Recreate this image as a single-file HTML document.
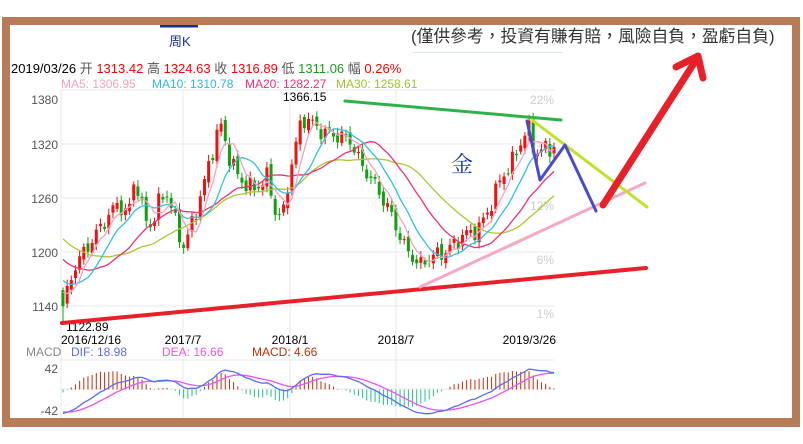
<!DOCTYPE html>
<html><head><meta charset="utf-8"><style>
html,body{margin:0;padding:0;background:#fff;}
body{width:803px;height:444px;overflow:hidden;position:relative;font-family:"Liberation Sans","Noto Sans CJK TC",sans-serif;}
</style></head><body>
<svg id="s" width="803" height="444" xmlns="http://www.w3.org/2000/svg" style="position:absolute;left:0;top:0">
<rect x="2" y="17" width="798" height="410" fill="#b87b58"/>
<rect x="10" y="25" width="782" height="393" fill="#fff"/>
<rect x="160" y="25" width="38" height="2.5" fill="#1a2f8a"/>
<text x="169" y="46" font-size="13" fill="#1a2f8a" font-family="Liberation Sans,Noto Sans CJK SC,sans-serif">周K</text>
<text x="411" y="42" font-size="16.8" fill="#333" font-family="Liberation Sans,Noto Sans CJK TC,sans-serif">(僅供參考，投資有賺有賠，風險自負，盈虧自負)</text>
<rect x="412" y="52" width="151" height="1" fill="#dde6f5"/>
<g font-size="13" font-family="Liberation Sans,Noto Sans CJK SC,sans-serif" xml:space="preserve">
<text x="11" y="73" fill="#000">2019/03/26  <tspan fill="#555">开</tspan> <tspan fill="#f00">1313.42</tspan>  <tspan fill="#555">高</tspan> <tspan fill="#f00">1324.63</tspan>  <tspan fill="#555">收</tspan> <tspan fill="#f00">1316.89</tspan>  <tspan fill="#555">低</tspan> <tspan fill="#1a9a1a">1311.06</tspan>  <tspan fill="#555">幅</tspan> <tspan fill="#f00">0.26%</tspan></text>
</g>
<g font-size="12" font-family="Liberation Sans,sans-serif">
<text x="61" y="88" fill="#f8a0c0">MA5: 1306.95</text>
<text x="152" y="88" fill="#2fb7e0">MA10: 1310.78</text>
<text x="245" y="88" fill="#f03070">MA20: 1282.27</text>
<text x="336" y="88" fill="#9cc42a">MA30: 1258.61</text>
</g>
<g id="grid" stroke="#e8e8e8" stroke-width="1"></g>
<g font-size="12" fill="#555" font-family="Liberation Sans,sans-serif" text-anchor="end">
<text x="58" y="104">1380</text><text x="58" y="149">1320</text><text x="58" y="203">1260</text><text x="58" y="257">1200</text><text x="58" y="311">1140</text>
<text x="58" y="373">42</text><text x="58" y="415">-42</text>
</g>
<g font-size="12" fill="#ccc" font-family="Liberation Sans,sans-serif" text-anchor="end">
<text x="554" y="104">22%</text><text x="554" y="154">17%</text><text x="554" y="210">12%</text><text x="554" y="264">6%</text><text x="554" y="318">1%</text>
</g>
<g id="plot"></g>
<g font-size="12" fill="#000" font-family="Liberation Sans,sans-serif">
<text x="283" y="101">1366.15</text>
<text x="66" y="331">1122.89</text>
<text x="61" y="344">2016/12/16</text>
<text x="183" y="344" text-anchor="middle">2017/7</text>
<text x="290" y="344" text-anchor="middle">2018/1</text>
<text x="396" y="344" text-anchor="middle">2018/7</text>
<text x="556" y="344" text-anchor="end">2019/3/26</text>
<text x="26" y="356" fill="#888">MACD</text>
<text x="71" y="356" fill="#5b6cf5">DIF: 18.98</text>
<text x="162" y="356" fill="#f050f0">DEA: 16.66</text>
<text x="252" y="356" fill="#c0300a">MACD: 4.66</text>
</g>
<text x="462" y="172" font-size="22" fill="#1a3a9a" text-anchor="middle" font-family="Noto Serif CJK SC,serif">金</text>
<g fill="none" stroke-linecap="round" stroke-linejoin="round">
<line x1="345" y1="101" x2="561" y2="120" stroke="#2db24a" stroke-width="3"/>
<line x1="62" y1="323" x2="646" y2="268" stroke="#e8202a" stroke-width="4"/>
<line x1="420" y1="287" x2="645" y2="183" stroke="#f6a8c6" stroke-width="3"/>
<line x1="532" y1="120" x2="647" y2="207" stroke="#bfe22c" stroke-width="3"/>
<polyline points="527,121 540,180 565,145 596,211" stroke="#4a4acf" stroke-width="3"/>
<line x1="603" y1="205" x2="696" y2="60" stroke="#e8202a" stroke-width="7"/>
<polyline points="676,67 698,56 703,78" stroke="#e8202a" stroke-width="7"/>
</g>
</svg>
<script>
(function(){
var NS="http://www.w3.org/2000/svg";
function el(t,a,p){var e=document.createElementNS(NS,t);for(var k in a)e.setAttribute(k,a[k]);(p||document.getElementById('plot')).appendChild(e);return e;}
var g=document.getElementById('grid');
[90,144,198,252,306,360,389].forEach(function(y){el('line',{x1:61,x2:554,y1:y,y2:y},g);});
[183,290,396].forEach(function(x){el('line',{x1:x,x2:x,y1:90,y2:418},g);});
el('line',{x1:61,x2:61,y1:90,y2:418},g);
var kp=[[63,1140],[75,1185],[90,1210],[105,1235],[118,1255],[128,1240],[135,1285],[145,1235],[152,1230],[160,1260],[168,1265],[175,1235],[183,1205],[190,1225],[200,1260],[212,1310],[220,1345],[228,1310],[240,1280],[255,1270],[268,1285],[275,1245],[283,1240],[290,1290],[300,1340],[306,1350],[320,1335],[335,1330],[350,1325],[360,1300],[375,1275],[390,1245],[405,1205],[420,1185],[430,1195],[445,1200],[455,1210],[465,1220],[478,1225],[490,1250],[500,1280],[512,1300],[520,1320],[528,1340],[535,1310],[545,1315],[554,1317]];
function interp(x){for(var i=0;i<kp.length-1;i++){if(x<=kp[i+1][0]){var t=(x-kp[i][0])/(kp[i+1][0]-kp[i][0]);return kp[i][1]+t*(kp[i+1][1]-kp[i][1]);}}return kp[kp.length-1][1];}
var PRE=40,N=119,c=[];
for(var i=0;i<PRE;i++){c.push(1330-(i/PRE)*180+8*Math.sin(i*1.3));}
var xs=[];
for(var i=0;i<N;i++){var x=63+i*(554-63)/(N-1);xs.push(x);var v=interp(x)+7*Math.sin(i*1.7)+4*Math.sin(i*3.1);if(i==0)v=1140;if(i==N-1)v=1317;c.push(v);}
function Y(p){return 306.3-(p-1140)*0.9;}
for(var i=0;i<N;i++){var k=PRE+i,cl=c[k],op=c[k-1]+4*Math.sin(i*2.3);var hi=Math.max(cl,op)+3+4*Math.abs(Math.sin(i*1.3)),lo=Math.min(cl,op)-3-4*Math.abs(Math.cos(i*1.1));
if(i==0)lo=1122.89;var col=cl>=op?'#f01010':'#10a010';var x=xs[i];
el('line',{x1:x,x2:x,y1:Y(hi),y2:Y(lo),stroke:col,'stroke-width':1});
var t=Y(Math.max(cl,op)),b=Y(Math.min(cl,op));el('rect',{x:x-1.5,y:t,width:3,height:Math.max(1,b-t),fill:col});}
function ma(n,col){var pts=[];for(var i=0;i<N;i++){var k=PRE+i,s=0;for(var j=0;j<n;j++)s+=c[k-j];pts.push(xs[i].toFixed(1)+','+Y(s/n).toFixed(1));}
el('polyline',{points:pts.join(' '),fill:'none',stroke:col,'stroke-width':1.3});}
ma(30,'#a8c832');ma(20,'#f03070');ma(10,'#30c0e0');ma(5,'#f8a0c0');
var e12=c[0],e26=c[0],dea=0,D=[],E=[],M=[];
for(var k=0;k<c.length;k++){e12=e12+(c[k]-e12)*2/13;e26=e26+(c[k]-e26)*2/27;var dif=e12-e26;dea=dea+(dif-dea)*2/10;if(k>=PRE){D.push(dif);E.push(dea);M.push(2*(dif-dea));}}
function MY(v){return 389.5-v*0.8;}
for(var i=0;i<N;i++){var v=M[i];el('line',{x1:xs[i],x2:xs[i],y1:389.5,y2:Math.min(418,Math.max(360,MY(v))),stroke:v>=0?'#c0300a':'#20c090','stroke-width':1});}
function ln(a,col){var p=[];for(var i=0;i<N;i++)p.push(xs[i].toFixed(1)+','+Math.min(417,Math.max(361,MY(a[i]))).toFixed(1));el('polyline',{points:p.join(' '),fill:'none',stroke:col,'stroke-width':1.3});}
ln(E,'#f050f0');ln(D,'#5b6cf5');
})();
</script>
</body></html>
